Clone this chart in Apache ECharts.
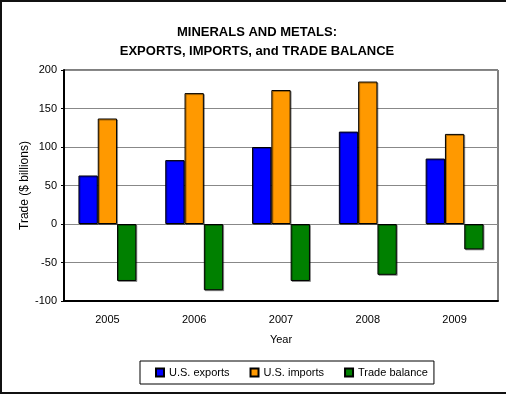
<!DOCTYPE html>
<html>
<head>
<meta charset="utf-8">
<script src="https://cdn.jsdelivr.net/npm/echarts@6/dist/echarts.min.js"></script>
<style>
html,body{margin:0;padding:0;background:#fff;}
#chart{width:506px;height:398px;}
</style>
</head>
<body>
<div id="chart"></div>
<script>
var years = ['2005', '2006', '2007', '2008', '2009'];
var usExports = [63, 83, 100, 120, 85];
var usImports = [137, 170, 174, 185, 117];
var tradeBalance = [-74, -86, -74, -66, -33];
var yTicks = {min: -100, max: 200, step: 50};

var chart = echarts.init(document.getElementById('chart'), null, {renderer: 'canvas'});
var font = 'Arial, "Liberation Sans", sans-serif';
function barSeries(name, data, color) {
  return {
    name: name, type: 'bar', data: data,
    barWidth: 19.3, barGap: '0%',
    itemStyle: {color: color, borderColor: '#000', borderWidth: 1,
      shadowColor: 'rgba(0,0,0,0.35)', shadowOffsetX: 1, shadowOffsetY: 1, shadowBlur: 0},
    emphasis: {disabled: true},
    animation: false
  };
}
chart.setOption({
  animation: false,
  graphic: [{
    type: 'rect', shape: {x: 1, y: 1, width: 520, height: 392},
    style: {fill: 'none', stroke: '#111', lineWidth: 2}, silent: true, z: 100
  }],
  title: {
    text: 'MINERALS AND METALS:\nEXPORTS, IMPORTS, and TRADE BALANCE',
    left: 252, top: 18, textAlign: 'center',
    textStyle: {fontFamily: font, fontSize: 13, fontWeight: 'bold', color: '#000', lineHeight: 19}
  },
  grid: {left: 64, top: 70, right: 8, bottom: 97, show: true, borderColor: '#000', borderWidth: 1, backgroundColor: '#fff'},
  legend: {
    left: 140, top: 361,
    padding: [6, 6, 6, 15],
    itemGap: 20, itemWidth: 8, itemHeight: 8, icon: 'rect',
    borderColor: '#000', borderWidth: 1,
    textStyle: {fontFamily: font, fontSize: 11, color: '#000'},
    data: ['U.S. exports', 'U.S. imports', 'Trade balance']
  },
  xAxis: {
    type: 'category', data: years,
    name: 'Year', nameLocation: 'middle', nameGap: 33,
    nameTextStyle: {fontFamily: font, fontSize: 11, color: '#000'},
    axisLine: {onZero: false, lineStyle: {color: '#000', width: 2}},
    axisTick: {show: false},
    axisLabel: {fontFamily: font, fontSize: 11, color: '#000', margin: 13}
  },
  yAxis: {
    type: 'value', min: yTicks.min, max: yTicks.max, interval: yTicks.step,
    name: 'Trade ($ billions)', nameLocation: 'middle', nameGap: 33, nameMoveOverlap: false,
    nameTextStyle: {fontFamily: font, fontSize: 12, color: '#000'},
    axisLine: {show: true, lineStyle: {color: '#000', width: 2}},
    axisTick: {show: true, length: 3, lineStyle: {color: '#000'}},
    axisLabel: {fontFamily: font, fontSize: 11, color: '#000', margin: 7},
    splitLine: {lineStyle: {color: '#888', width: 1}}
  },
  series: [
    barSeries('U.S. exports', usExports, '#0000ff'),
    barSeries('U.S. imports', usImports, '#ff9900'),
    barSeries('Trade balance', tradeBalance, '#008000')
  ]
});
</script>
</body>
</html>
